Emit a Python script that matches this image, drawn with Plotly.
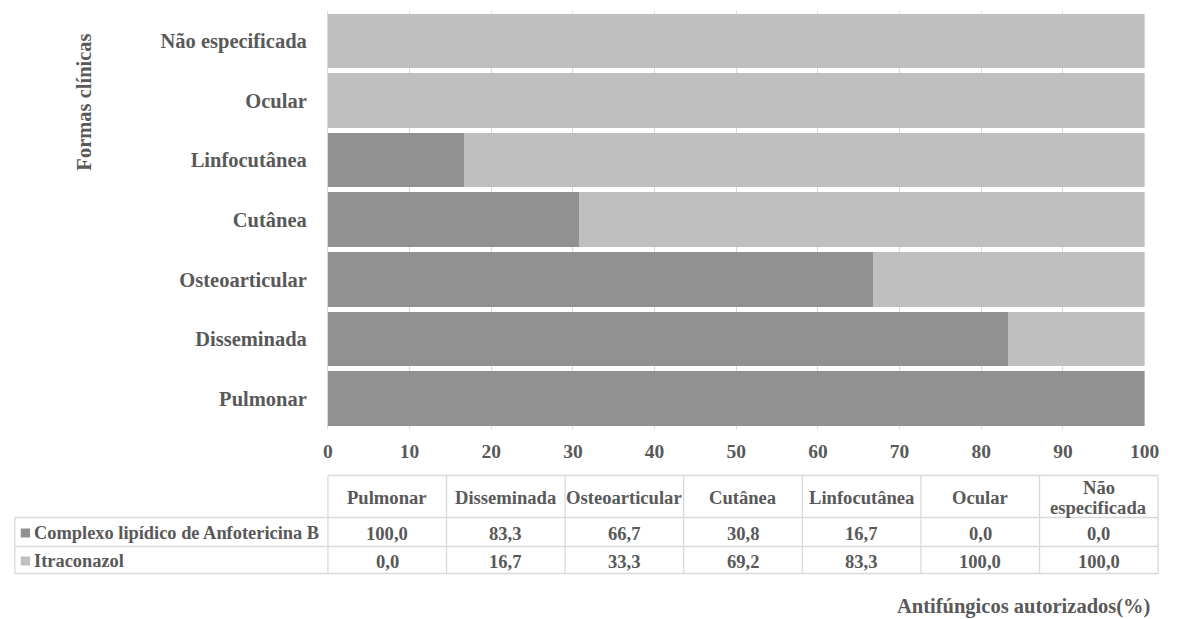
import plotly.graph_objects as go

# Clinical forms (bottom to top on the chart, left to right in the table)
formas = ["Pulmonar", "Disseminada", "Osteoarticular", "Cutânea",
          "Linfocutânea", "Ocular", "Não especificada"]
header_labels = ["Pulmonar", "Disseminada", "Osteoarticular", "Cutânea",
                 "Linfocutânea", "Ocular", "Não\nespecificada"]

series_names = ["Complexo lipídico de Anfotericina B", "Itraconazol"]
anfotericina = [100.0, 83.3, 66.7, 30.8, 16.7, 0.0, 0.0]
itraconazol = [0.0, 16.7, 33.3, 69.2, 83.3, 100.0, 100.0]
series_values = [anfotericina, itraconazol]
series_colors = ["#919191", "#bfbfbf"]

x_ticks = [0, 10, 20, 30, 40, 50, 60, 70, 80, 90, 100]

W, H = 1179, 619
FONT = "Liberation Serif"
TXT = "#595959"
GRID = "#d9d9d9"


def px(x):
    return x / W


def py(y):
    return 1 - y / H


fig = go.Figure()
for name, vals, col in zip(series_names, series_values, series_colors):
    fig.add_trace(go.Bar(
        y=formas, x=vals, name=name, orientation="h",
        marker=dict(color=col, line=dict(width=0)),
        showlegend=False,
    ))

# plot area, in pixels
PL, PR, PT, PB = 328.5, 1159.3, 11, 428.5

fig.update_layout(
    width=W, height=H,
    margin=dict(l=0, r=0, t=0, b=0),
    paper_bgcolor="white", plot_bgcolor="white",
    barmode="stack", bargap=0.085,
    font=dict(family=FONT, color=TXT),
    xaxis=dict(
        domain=[px(PL), px(PR)], range=[0, 100],
        tickvals=x_ticks, ticktext=[str(t) for t in x_ticks],
        showgrid=True, gridcolor=GRID, gridwidth=1,
        zeroline=False, showline=False,
        tickfont=dict(family=FONT, size=19.5, color=TXT, weight="bold"),
        ticks="", ticklabelstandoff=9,
    ),
    yaxis=dict(
        domain=[py(PB), py(PT)],
        categoryorder="array", categoryarray=formas,
        showgrid=False, zeroline=False,
        showline=True, linecolor=GRID, linewidth=1,
        tickfont=dict(family=FONT, size=20.5, color=TXT, weight="bold"),
        ticks="", ticklabelstandoff=16,
    ),
)

shapes = []
annotations = []

# data table under the chart
col_left, col_w = 328.5, (1173 - 328.5) / 7
leg_left = 10
row_top, row_hdr, row_1, row_2 = 475.5, 517.5, 546.5, 573.5
line = dict(color=GRID, width=1.3)

shapes.append(dict(type="line", xref="paper", yref="paper",
                   x0=px(col_left), x1=px(col_left + 7 * col_w),
                   y0=py(row_top), y1=py(row_top), line=line))
for yy in (row_hdr, row_1, row_2):
    shapes.append(dict(type="line", xref="paper", yref="paper",
                       x0=px(leg_left), x1=px(col_left + 7 * col_w),
                       y0=py(yy), y1=py(yy), line=line))
shapes.append(dict(type="line", xref="paper", yref="paper",
                   x0=px(leg_left), x1=px(leg_left),
                   y0=py(row_hdr), y1=py(row_2), line=line))
for i in range(8):
    xx = col_left + i * col_w
    shapes.append(dict(type="line", xref="paper", yref="paper",
                       x0=px(xx), x1=px(xx),
                       y0=py(row_top), y1=py(row_2), line=line))

CELL = 18.6
cell_font = dict(family=FONT, size=CELL, color=TXT, weight="bold")
row_centres = [(row_1 + row_hdr) / 2 + 1, (row_2 + row_1) / 2 + 1]
line_step = 20.5

for i, lab in enumerate(header_labels):
    parts = lab.split("\n")
    yc = (row_top + row_hdr) / 2 + 1
    y0 = yc - line_step * (len(parts) - 1) / 2
    for k, part in enumerate(parts):
        annotations.append(dict(
            xref="paper", yref="paper", x=px(col_left + (i + 0.5) * col_w),
            y=py(y0 + k * line_step), text=part, showarrow=False,
            xanchor="center", yanchor="middle", font=cell_font,
        ))

for r, (name, vals, col) in enumerate(zip(series_names, series_values, series_colors)):
    yc = row_centres[r]
    # legend key
    shapes.append(dict(type="rect", xref="paper", yref="paper",
                       x0=px(16), x1=px(25.5), y0=py(yc - 4.5), y1=py(yc + 4.5),
                       fillcolor=col, line=dict(width=0)))
    annotations.append(dict(
        xref="paper", yref="paper", x=px(27.5), y=py(yc), text=name,
        showarrow=False, xanchor="left", yanchor="middle",
        font=dict(family=FONT, size=18.4, color=TXT, weight="bold"),
    ))
    for i, v in enumerate(vals):
        annotations.append(dict(
            xref="paper", yref="paper", x=px(col_left + (i + 0.5) * col_w),
            y=py(yc), text=f"{v:.1f}".replace(".", ","), showarrow=False,
            xanchor="center", yanchor="middle", font=cell_font,
        ))

# axis titles
annotations.append(dict(
    xref="paper", yref="paper", x=px(80), y=py(102), text="Formas clínicas",
    textangle=-90, showarrow=False, xanchor="center", yanchor="middle",
    font=dict(family=FONT, size=20.5, color=TXT, weight="bold"),
))
annotations.append(dict(
    xref="paper", yref="paper", x=px(1167), y=py(606.5),
    text="Antifúngicos autorizados(%)", showarrow=False,
    xanchor="right", yanchor="middle",
    font=dict(family=FONT, size=20.5, color=TXT, weight="bold"),
))

fig.update_layout(shapes=shapes, annotations=annotations)
fig.write_html("out.html")
